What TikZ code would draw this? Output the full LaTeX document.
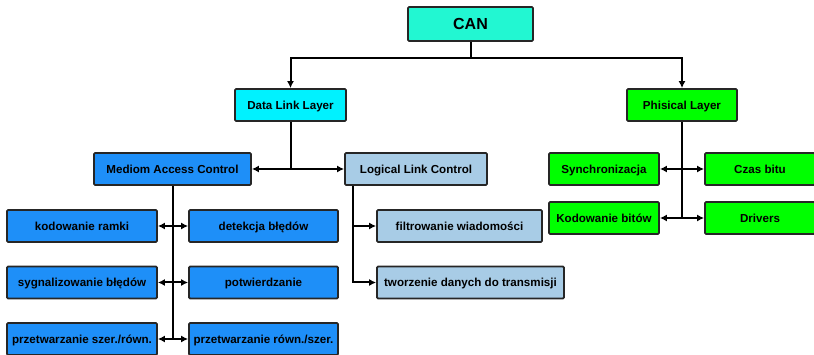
\documentclass[tikz,border=0pt]{standalone}
\usepackage{fontspec}
\setmainfont{Liberation Sans}
\usetikzlibrary{arrows.meta}
\definecolor{cCAN}{HTML}{22F7D2}
\definecolor{cDLL}{HTML}{00F2FF}
\definecolor{cPL}{HTML}{00FF00}
\definecolor{cMAC}{HTML}{1E8FF8}
\definecolor{cLLC}{HTML}{A8CCE6}
\tikzset{
  box/.style={draw=black!85, line width=1.8pt, rounded corners=1.2pt, inner sep=0pt,
    minimum height=32pt, text height=8.2pt, text depth=0pt,
    font=\bfseries\fontsize{11.6}{13}\selectfont},
  link/.style={line width=2pt, draw=black},
  tip/.style={-{Latex[length=7pt,width=7pt]}},
  tips/.style={{Latex[length=7pt,width=7pt]}-{Latex[length=7pt,width=7pt]}}
}
\begin{document}
\begin{tikzpicture}[x=1pt,y=-1pt]
\useasboundingbox (0,0) rectangle (814,355);
% level 0
\node[box, fill=cCAN, minimum width=125pt, minimum height=34pt, text height=11.5pt,
  font=\bfseries\fontsize{16}{18}\selectfont] (can) at (470.5,24) {CAN};
% level 1
\node[box, fill=cDLL, minimum width=111pt] (dll) at (290.5,105) {Data Link Layer};
\node[box, fill=cPL, minimum width=110pt] (pl) at (682,105) {Phisical Layer};
% level 2
\node[box, fill=cMAC, minimum width=157pt] (mac) at (172.5,169) {Mediom Access Control};
\node[box, fill=cLLC, minimum width=142pt] (llc) at (416,169) {Logical Link Control};
% MAC children
\node[box, fill=cMAC, minimum width=150pt] (k1) at (82,226) {kodowanie ramki};
\node[box, fill=cMAC, minimum width=149pt] (d1) at (263.5,226) {detekcja błędów};
\node[box, fill=cMAC, minimum width=150pt] (k2) at (82,282.5) {sygnalizowanie błędów};
\node[box, fill=cMAC, minimum width=149pt] (d2) at (263.5,282.5) {potwierdzanie};
\node[box, fill=cMAC, minimum width=150pt] (k3) at (82,339) {przetwarzanie szer./równ.};
\node[box, fill=cMAC, minimum width=149pt] (d3) at (263.5,339) {przetwarzanie równ./szer.};
% LLC children
\node[box, fill=cLLC, minimum width=165pt] (f1) at (459.5,226) {filtrowanie wiadomości};
\node[box, fill=cLLC, minimum width=187pt] (t1) at (470.5,282.5) {tworzenie danych do transmisji};
% PL children
\node[box, fill=cPL, minimum width=110pt] (s1) at (604,169) {Synchronizacja};
\node[box, fill=cPL, minimum width=110pt] (c1) at (760,169) {Czas bitu};
\node[box, fill=cPL, minimum width=110pt] (s2) at (604,218) {Kodowanie bitów};
\node[box, fill=cPL, minimum width=110pt] (c2) at (760,218) {Drivers};
% connectors
\coordinate (bus) at ([yshift=-16pt]can.south);
\draw[link] (can.south) -- (bus);
\draw[link, tip] (bus) -| (dll.north);
\draw[link, tip] (bus) -| (pl.north);
\draw[link] (dll.south) -- (dll.south |- mac.east);
\draw[link, tips] (mac.east) -- (llc.west);
\draw[link] (mac.south) -- (mac.south |- k3.east);
\draw[link, tips] (k1.east) -- (d1.west);
\draw[link, tips] (k2.east) -- (d2.west);
\draw[link, tips] (k3.east) -- (d3.west);
\coordinate (lv) at ([xshift=9pt]llc.south west);
\draw[link, tip] (lv) |- (f1.west);
\draw[link, tip] (lv) |- (t1.west);
\draw[link] (pl.south) -- (pl.south |- s2.east);
\draw[link, tips] (s1.east) -- (c1.west);
\draw[link, tips] (s2.east) -- (c2.west);
\end{tikzpicture}
\end{document}
